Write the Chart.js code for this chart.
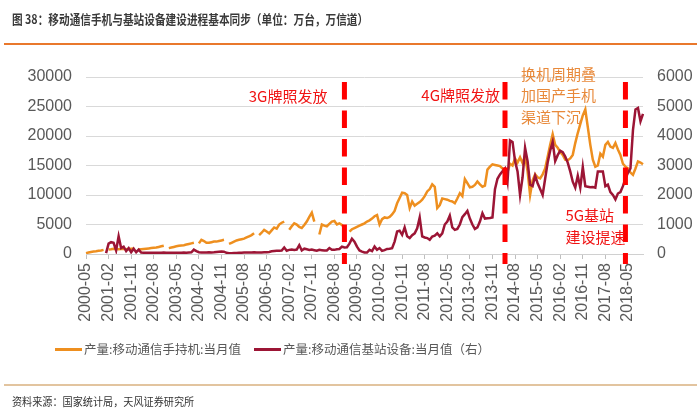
<!DOCTYPE html>
<html>
<head>
<meta charset="utf-8">
<script src="https://cdn.jsdelivr.net/npm/chart.js@4"></script>
<style>
  html, body { margin: 0; padding: 0; background: #fff; }
  #wrap { position: relative; width: 700px; height: 414px; overflow: hidden; font-family: 'Noto Sans CJK SC', sans-serif; }
  #chartBox { position: absolute; left: 0; top: 0; width: 700px; height: 414px; }
  .title { position: absolute; left: 12px; top: 9px; font-size: 13px; font-weight: 700; color: #3a3a3a; white-space: nowrap; transform: scaleX(0.82); transform-origin: left center; }
  .rule1 { position: absolute; left: 4px; top: 43px; width: 693px; height: 2px; background: #e9782c; }
  .rule2 { position: absolute; left: 4px; top: 384px; width: 693px; height: 1.5px; background: #e2c49f; }
  .src { position: absolute; left: 12px; top: 393px; font-size: 11px; color: #333; white-space: nowrap; transform: scaleX(0.92); transform-origin: left center; }
  .leg { position: absolute; top: 340px; font-size: 12.5px; color: #595959; white-space: nowrap; line-height: 18px; }
  .leg i { display: inline-block; width: 27px; height: 3px; vertical-align: middle; margin-right: 2px; position: relative; top: -1px; }
</style>
</head>
<body>
<div id="wrap">
  <div id="chartBox"><canvas id="chartCanvas"></canvas></div>
  <div class="title">图 38：移动通信手机与基站设备建设进程基本同步（单位：万台，万信道）</div>
  <div class="rule1"></div>
  <div class="leg" style="left:55px"><i style="background:#ee8f1f"></i>产量:移动通信手持机:当月值</div>
  <div class="leg" style="left:254px"><i style="background:#9c1535"></i>产量:移动通信基站设备:当月值（右）</div>
  <div class="rule2"></div>
  <div class="src">资料来源：国家统计局，天风证券研究所</div>
</div>
<script>
// months 2000-05 .. 2018-11
const labels = [];
for (let y = 2000; y <= 2018; y++) {
  for (let m = 1; m <= 12; m++) {
    if (y === 2000 && m < 5) continue;
    if (y === 2018 && m > 11) break;
    labels.push(y + '-' + (m < 10 ? '0' + m : m));
  }
}

// 产量:移动通信手持机:当月值 (万台), null = no January figure
const handsetOutput = [
  150, 250, 350, 420, 480, 550, 600, 700,                                   // 2000 May-Dec
  null, 750, 800, 900, 850, 800, 850, 900, 800, 850, 900, 950,             // 2001
  null, 750, 800, 850, 900, 950, 1000, 1050, 1100, 1200, 1300, 1400,       // 2002
  null, 1000, 1100, 1200, 1300, 1400, 1450, 1500, 1600, 1700, 1800, 1900,  // 2003
  null, 1800, 2400, 2200, 1900, 1900, 2000, 2100, 2100, 2200, 2300, 2400,  // 2004
  null, 1700, 1900, 2100, 2300, 2400, 2500, 2600, 2800, 3000, 3200, 3500,  // 2005
  null, 3200, 3600, 4100, 3800, 3500, 4000, 4500, 4300, 5000, 5300, 5500,  // 2006
  null, 4100, 4700, 5200, 5000, 4600, 4400, 4900, 5500, 6300, 7000, 5500,  // 2007
  null, 3300, 5000, 4800, 4700, 5100, 5500, 5600, 5000, 5200, 4900, 4500,  // 2008
  null, 3800, 4200, 4400, 4600, 4800, 5000, 5200, 5500, 5700, 6000, 6400,  // 2009
  6600, 5000, 5900, 6200, 6100, 6300, 6700, 7300, 8600, 9500, 10400, 10300,          // 2010
  10000, 7800, 8900, 8200, 8500, 8800, 9200, 9800, 10600, 11000, 11800, 11400,       // 2011
  7800, 8300, 9400, 9300, 9200, 9000, 8900, 8600, 9400, 10300, 9800, 12700,          // 2012
  12000, 11300, 11400, 11700, 12300, 11800, 11400, 11600, 14300, 14800, 15200, 15100, // 2013
  15000, 14900, 14500, 14200, 13900, 15300, 15000, 16200, 15500, 16400, 15400, 16600, // 2014
  14000, 10000, 12500, 13500, 13000, 12800, 13500, 14500, 16500, 18500, 20300, 18500, // 2015
  18000, 17300, 16800, 16000, 15900, 16200, 16800, 18800, 20500, 22000, 23500, 24500, // 2016
  21500, 18500, 16000, 14800, 15000, 17000, 16500, 18500, 19000, 18200, 18000, 18800, // 2017
  17700, 16800, 15300, 14800, 14500, 13800, 13400, 14500, 15700, 15500, 15200         // 2018 Jan-Nov
];

// 产量:移动通信基站设备:当月值 (万信道, right axis)
const baseStationOutput = [
  null, null, null, null, null, null, null, null,                          // 2000
  30, 350, 400, 380, 120, 600, 200, 250, 100, 200, 60, 180,                // 2001
  60, 150, 50, 45, 40, 40, 45, 40, 40, 45, 40, 50,                         // 2002
  45, 40, 40, 45, 40, 40, 45, 50, 45, 50, 55, 150,                         // 2003
  100, 60, 55, 50, 55, 60, 55, 60, 70, 80, 85, 80,                         // 2004
  40, 25, 25, 30, 30, 40, 45, 50, 55, 50, 55, 60,                          // 2005
  50, 55, 55, 60, 60, 70, 90, 100, 110, 110, 120, 220,                     // 2006
  110, 140, 150, 140, 150, 300, 120, 180, 160, 140, 150, 130,              // 2007
  110, 140, 130, 120, 120, 200, 140, 140, 160, 170, 250, 220,              // 2008
  230, 350, 520, 420, 250, 120, 80, 50, 50, 140, 100, 250,                 // 2009
  140, 200, 110, 130, 170, 180, 200, 420, 760, 790, 650, 900,              // 2010
  600, 540, 640, 700, 870, 1240, 600, 560, 540, 480, 590, 620,             // 2011
  700, 600, 700, 1000, 1100, 1300, 900, 820, 850, 1000, 1250, 1350,        // 2012
  1460, 1200, 1000, 850, 900, 1100, 1380, 1200, 1210, 1220, 1240, 2200,    // 2013
  2550, 2700, 2800, 2900, 2450, 3850, 3800, 3150, 2800, 2000, 2600, 3600,  // 2014
  3150, 2350, 2300, 2650, 2400, 2200, 2000, 2550, 3100, 3500, 3800, 3150,  // 2015
  3350, 3500, 3450, 3300, 3100, 2800, 2450, 2250, 2650, 2250, 2950, 2300,  // 2016
  2280, 2260, 2270, 2250, 2800, 2800, 2800, 2300, 2350, 2100, 2000, 1850,  // 2017
  2050, 2100, 2300, 2550, 2750, 2900, 4200, 4900, 4950, 4500, 4750         // 2018
];

const leftTicks = [0, 5000, 10000, 15000, 20000, 25000, 30000];
const rightTicks = [0, 1000, 2000, 3000, 4000, 5000, 6000];

// policy milestones marked with dashed lines
const markerMonths = ['2008-12', '2014-04', '2018-04'];

const numFont = "'Liberation Sans', Arial, sans-serif";
const cjkFont = "'Noto Sans CJK SC', sans-serif";

const markerPlugin = {
  id: 'markers',
  afterDatasetsDraw(chart) {
    const { ctx, chartArea, scales } = chart;
    const px = markerMonths.map(m => scales.x.getPixelForValue(labels.indexOf(m)));
    ctx.save();
    ctx.strokeStyle = '#ff0000';
    ctx.lineWidth = 5;
    ctx.setLineDash([17.5, 11]);
    px.forEach(p => {
      ctx.beginPath();
      ctx.moveTo(p, chartArea.top + 5);
      ctx.lineTo(p, chartArea.bottom + 10);
      ctx.stroke();
    });
    ctx.setLineDash([]);
    ctx.font = '15px ' + cjkFont;
    ctx.textBaseline = 'middle';
    ctx.fillStyle = '#f01414';
    ctx.textAlign = 'right';
    ctx.fillText('3G牌照发放', px[0] - 17, 96);
    ctx.fillText('4G牌照发放', px[1] - 5, 95);
    ctx.textAlign = 'left';
    ctx.fillText('5G基站', px[2] - 60, 215);
    ctx.fillText('建设提速', px[2] - 60, 237);
    ctx.fillStyle = '#e8893a';
    ctx.fillText('换机周期叠', px[1] + 16, 74);
    ctx.fillText('加国产手机', px[1] + 16, 95);
    ctx.fillText('渠道下沉', px[1] + 16, 117);
    ctx.restore();
  }
};

new Chart(document.getElementById('chartCanvas'), {
  type: 'line',
  data: {
    labels: labels,
    datasets: [{
      label: '产量:移动通信手持机:当月值',
      data: handsetOutput,
      yAxisID: 'y',
      borderColor: '#ee8f1f',
      borderWidth: 2.5,
      pointRadius: 0,
      tension: 0,
      spanGaps: false,
      order: 2
    }, {
      label: '产量:移动通信基站设备:当月值（右）',
      data: baseStationOutput,
      yAxisID: 'y1',
      borderColor: '#9c1535',
      borderWidth: 2.5,
      pointRadius: 0,
      tension: 0,
      order: 1
    }]
  },
  options: {
    responsive: true,
    maintainAspectRatio: false,
    animation: false,
    layout: { padding: { top: 77, bottom: 80, left: 0, right: 0 } },
    plugins: { legend: { display: false }, tooltip: { enabled: false } },
    scales: {
      x: {
        grid: { display: true, drawOnChartArea: false, drawTicks: true, tickLength: 5, color: '#bfbfbf' },
        border: { display: true, color: '#d0d0d0' },
        ticks: {
          autoSkip: false, minRotation: 90, maxRotation: 90, padding: 4,
          color: '#595959', font: { family: numFont, size: 16 },
          callback: function (val, idx) { return idx % 9 === 0 ? this.getLabelForValue(val) : null; }
        },
        afterFit: s => { s.height = 80; }
      },
      y: {
        position: 'left', min: 0, max: 30000,
        afterBuildTicks: s => { s.ticks = leftTicks.map(v => ({ value: v })); },
        grid: { color: '#d9d9d9', drawTicks: false },
        border: { display: false },
        ticks: { padding: 14, color: '#595959', font: { family: numFont, size: 16 }, callback: v => String(v) },
        afterFit: s => { s.width = 86; }
      },
      y1: {
        position: 'right', min: 0, max: 6000,
        afterBuildTicks: s => { s.ticks = rightTicks.map(v => ({ value: v })); },
        grid: { drawOnChartArea: false, drawTicks: false },
        border: { display: false },
        ticks: { padding: 14, color: '#595959', font: { family: numFont, size: 16 }, callback: v => String(v) },
        afterFit: s => { s.width = 57; }
      }
    }
  },
  plugins: [markerPlugin]
});
</script>
</body>
</html>
